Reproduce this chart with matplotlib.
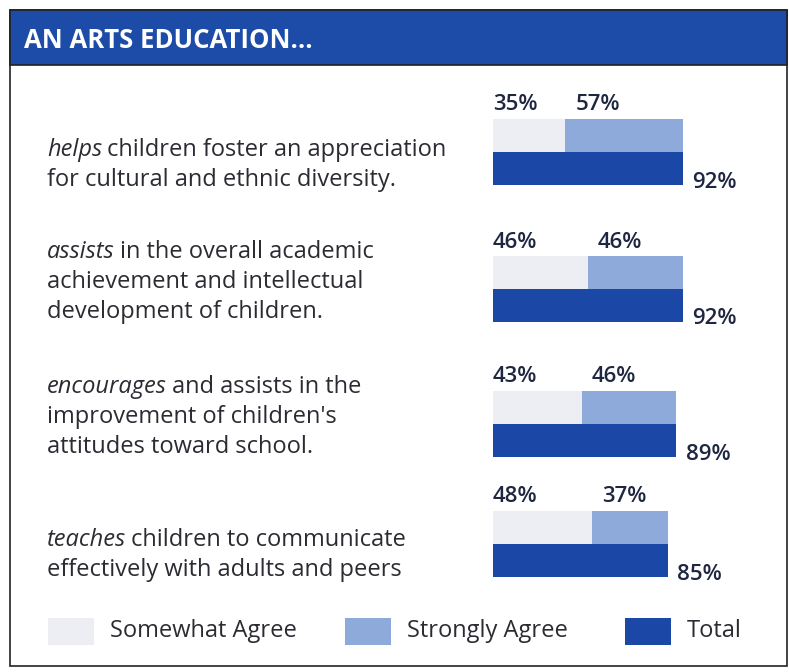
import matplotlib.pyplot as plt
from matplotlib.patches import Rectangle

# data
statements = [
    ("helps", "children foster an appreciation\nfor cultural and ethnic diversity."),
    ("assists", "in the overall academic\nachievement and intellectual\ndevelopment of children."),
    ("encourages", "and assists in the\nimprovement of children's\nattitudes toward school."),
    ("teaches", "children to communicate\neffectively with adults and peers"),
]
somewhat = [35, 46, 43, 48]
strongly = [57, 46, 46, 37]
total = [92, 92, 89, 85]
legend_labels = ["Somewhat Agree", "Strongly Agree", "Total"]

c_some = "#eceef3"
c_strong = "#8eaadb"
c_total = "#1b47a6"
c_head = "#1c4ba8"
c_text = "#2b2b33"
c_num = "#1e2640"

plt.rcParams['font.family'] = ['Open Sans', 'DejaVu Sans']

W, H = 789, 672
fig = plt.figure(figsize=(W / 100, H / 100), dpi=100)
fig.patch.set_facecolor("white")

# page axes in pixel units
pg = fig.add_axes([0, 0, 1, 1])
pg.set_xlim(0, W)
pg.set_ylim(H, 0)
pg.axis("off")
pg.add_patch(Rectangle((10, 10), 777, 656, fill=False, ec="#222222", lw=1.2))
pg.add_patch(Rectangle((10, 10), 777, 55, fc=c_head, ec="#222222", lw=1.2))
pg.text(24, 40, "AN ARTS EDUCATION...", color="white", fontsize=18.5,
        fontweight="bold", va="center", ha="left")

# bar axes: x in percent, y in pixels
row_mid = [152, 289, 424, 544]
text_y = [165, 282, 417, 555]
bh = 33
ax = fig.add_axes([493 / W, 0, 206 / W, 1])
ax.set_xlim(0, 100)
ax.set_ylim(H, 0)
ax.axis("off")

fs_num = 16
fs_txt = 17
for i in range(len(total)):
    y = row_mid[i]
    ax.barh(y - bh / 2, somewhat[i], height=bh, color=c_some, lw=0)
    ax.barh(y - bh / 2, strongly[i], left=somewhat[i], height=bh, color=c_strong,
            lw=0)
    ax.barh(y + bh / 2, total[i], height=bh, color=c_total, lw=0)
    ax.text(0, y - bh - 14, f"{somewhat[i]}%", fontsize=fs_num, fontweight="semibold",
            color=c_num, ha="left", va="center")
    ax.text(somewhat[i] + 5, y - bh - 14, f"{strongly[i]}%", fontsize=fs_num,
            fontweight="semibold", color=c_num, ha="left", va="center")
    ax.text(total[i] + 4.5, y + bh - 3, f"{total[i]}%", fontsize=fs_num,
            fontweight="semibold", color=c_num, ha="left", va="center")

    # statement text, first word in italics
    lead, rest = statements[i]
    first, *others = rest.split("\n")
    n = len(others) + 1
    step = 30
    y0 = text_y[i] - (n - 1) * step / 2
    t = pg.text(47, y0, lead, fontsize=fs_txt, style="italic", color=c_text,
                ha="left", va="center")
    fig.canvas.draw()
    bb = t.get_window_extent()
    x_end = pg.transData.inverted().transform((bb.x1, 0))[0]
    pg.text(x_end + 5, y0, first, fontsize=fs_txt, color=c_text, ha="left",
            va="center")
    for k, line in enumerate(others):
        pg.text(47, y0 + (k + 1) * step, line, fontsize=fs_txt, color=c_text,
                ha="left", va="center")

# legend
leg_x = [48, 345, 625]
leg_c = [c_some, c_strong, c_total]
for lx, lc, lab in zip(leg_x, leg_c, legend_labels):
    pg.add_patch(Rectangle((lx, 618), 46, 27, fc=lc, lw=0))
    pg.text(lx + 62, 631, lab, fontsize=fs_txt, color=c_text, ha="left",
            va="center")

plt.savefig("out.png", dpi=100)
